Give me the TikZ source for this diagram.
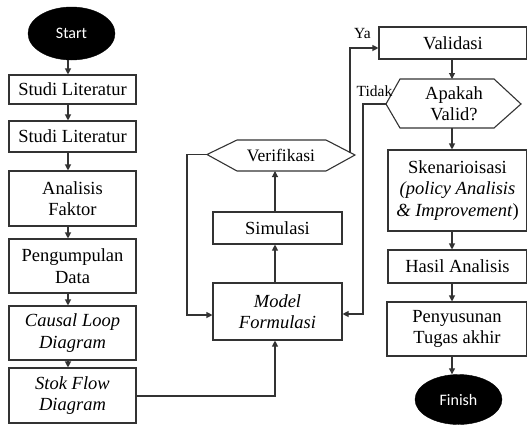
\documentclass[tikz,border=0pt]{standalone}
\usepackage{fontspec}
\setmainfont{Liberation Serif}
\newfontfamily\calib{Carlito}
\usetikzlibrary{shapes.geometric,arrows.meta}
\begin{document}
\begin{tikzpicture}[x=1pt,y=-1pt,
  linecol/.style={draw=black!80, line width=1.1pt},
  boxnode/.style={rectangle, linecol, inner sep=0pt, align=center, fill=white,
    font=\fontsize{18.5}{21.5}\selectfont},
  termnode/.style={ellipse, fill=black, draw=black, text=white, inner sep=0pt,
    minimum width=87pt, font=\calib\fontsize{16}{18}\selectfont},
  hexpath/.style={linecol, fill=white},
  conn/.style={linecol, -{Triangle[width=6pt,length=6pt]}},
  lbl/.style={font=\fontsize{15.5}{18}\selectfont, inner sep=0pt}]
\useasboundingbox (0,0) rectangle (527,424);
% left column
\node[termnode, minimum height=53pt] (start) at (71.5,33.5) {Start};
\node[boxnode, minimum width=127pt, minimum height=29pt] (s1) at (72.5,89.5) {Studi Literatur};
\node[boxnode, minimum width=127pt, minimum height=31pt] (s2) at (72.5,136.5) {Studi Literatur};
\node[boxnode, minimum width=127pt, minimum height=55pt] (af) at (72.5,198.5) {Analisis\\Faktor};
\node[boxnode, minimum width=127pt, minimum height=54pt] (pd) at (72.5,266) {Pengumpulan\\Data};
\node[boxnode, minimum width=127pt, minimum height=54pt] (cld) at (72.5,333) {\itshape Causal Loop\\\itshape Diagram};
\node[boxnode, minimum width=127pt, minimum height=55pt] (sfd) at (72.5,395.5) {\itshape Stok Flow\\\itshape Diagram};
% middle column
\node[boxnode, minimum width=129pt, minimum height=57pt] (mf) at (277.5,311.5) {\itshape Model\\\itshape Formulasi};
\node[boxnode, minimum width=129pt, minimum height=32pt] (sim) at (277.5,228) {Simulasi};
\draw[hexpath] (207,154.5) -- (237,140) -- (326,140) -- (355,155) -- (326,171) -- (237,171) -- cycle;
\node[boxnode, draw=none, fill=none, font=\fontsize{17.5}{20}\selectfont] (ver) at (281,155.5) {Verifikasi};
\coordinate (verL) at (207,154.5);
\coordinate (verR) at (350,152.5);
\coordinate (verB) at (275,171);
% right column
\node[boxnode, minimum width=148pt, minimum height=32pt] (val) at (453,43) {Validasi};
\draw[hexpath] (386,104) -- (400,79) -- (494,79) -- (521,104) -- (494,128) -- (400,128) -- cycle;
\node[boxnode, draw=none, fill=none] (apv) at (454,103.5) {Apakah\\Valid?};
\coordinate (apvL) at (386,104);
\coordinate (apvT) at (452,79);
\coordinate (apvB) at (452,128);
\node[boxnode, minimum width=139pt, minimum height=81pt] (sk) at (457.5,190.5) {Skenarioisasi\\\textit{(policy Analisis}\\\textit{\& Improvement})};
\node[boxnode, minimum width=139pt, minimum height=33pt] (ha) at (457.5,266.5) {Hasil Analisis};
\node[boxnode, minimum width=140pt, minimum height=54pt] (pt) at (457,329) {Penyusunan\\Tugas akhir};
\node[termnode, minimum height=50pt] (fin) at (458.5,399.5) {Finish};
% labels
\node[lbl] (ya) at (362.5,33) {Ya};
\node[lbl] (tidak) at (374.5,91) {Tidak};
% left column arrows
\draw[conn] (start.south -| 68,0) -- (s1.north -| 68,0);
\draw[conn] (s1.south -| 68,0) -- (s2.north -| 68,0);
\draw[conn] (s2.south -| 68,0) -- (af.north -| 68,0);
\draw[conn] (af.south -| 68,0) -- (pd.north -| 68,0);
\draw[conn] (pd.south -| 68,0) -- (cld.north -| 68,0);
\draw[conn] (cld.south -| 68,0) -- (sfd.north -| 68,0);
% to model formulasi
\draw[conn] (sfd.east |- 0,396) -- (275,396) -- (mf.south -| 275,0);
\draw[conn] (mf.north -| 275,0) -- (sim.south -| 275,0);
\draw[conn] (sim.north -| 275,0) -- (verB);
\draw[conn] (verL) -- (187,154.5) -- (187,315) -- (mf.west |- 0,315);
\draw[conn] (verR) -- (350,48) -- (val.west |- 0,48);
\draw[conn] (apvL) -- (363,104) -- (363,314) -- (mf.east |- 0,314);
% right column arrows
\draw[conn] (val.south -| 452,0) -- (apvT);
\draw[conn] (apvB) -- (sk.north -| 452,0);
\draw[conn] (sk.south -| 452,0) -- (ha.north -| 452,0);
\draw[conn] (ha.south -| 452,0) -- (pt.north -| 452,0);
\draw[conn] (pt.south -| 452,0) -- (fin.north -| 452,0);
\end{tikzpicture}
\end{document}
